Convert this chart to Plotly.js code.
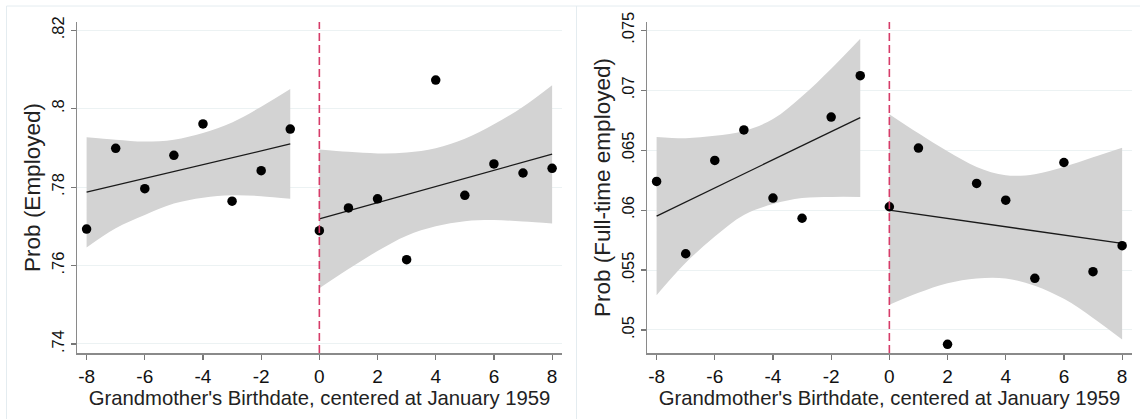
<!DOCTYPE html>
<html>
<head>
<meta charset="utf-8">
<script src="https://cdn.plot.ly/plotly-3.0.1.min.js"></script>
<style>html,body{margin:0;padding:0;background:#fff;}#chart{width:1140px;height:419px;}</style>
</head>
<body>
<div id="chart"></div>
<script>
// ---- data ----
var xBefore = [-8, -7, -6, -5, -4, -3, -2, -1];
var xAfter = [0, 1, 2, 3, 4, 5, 6, 7, 8];
var xTickVals = [-8, -6, -4, -2, 0, 2, 4, 6, 8];
var xTickText = ['-8', '-6', '-4', '-2', '0', '2', '4', '6', '8'];

// Panel 1: Prob (Employed)
var empBefore = [0.7693, 0.7899, 0.7796, 0.7881, 0.7961, 0.7764, 0.7842, 0.7948];
var empAfter = [0.7689, 0.7747, 0.7770, 0.7615, 0.8073, 0.7779, 0.7859, 0.7836, 0.7848];
var empFitXBefore = [-8, -1];
var empFitBefore = [0.7787, 0.7910];
var empFitXAfter = [0, 8];
var empFitAfter = [0.7719, 0.7884];
var empUpBefore = [0.7927, 0.7921, 0.7916, 0.7921, 0.7938, 0.7965, 0.8005, 0.8050];
var empLoBefore = [0.7646, 0.7695, 0.7729, 0.7758, 0.7773, 0.7779, 0.7777, 0.7770];
var empUpAfter = [0.7896, 0.7890, 0.7886, 0.7888, 0.7899, 0.7923, 0.7960, 0.8005, 0.8060];
var empLoAfter = [0.7542, 0.7591, 0.7637, 0.7676, 0.7700, 0.7713, 0.7716, 0.7712, 0.7707];
var empTickVals = [0.74, 0.76, 0.78, 0.80, 0.82];
var empTickText = ['.74', '.76', '.78', '.8', '.82'];

// Panel 2: Prob (Full-time employed)
var ftBefore = [0.06239, 0.05636, 0.06414, 0.06669, 0.06100, 0.05932, 0.06776, 0.07121];
var ftAfter = [0.06028, 0.06517, 0.04880, 0.06222, 0.06083, 0.05431, 0.06397, 0.05486, 0.05703];
var ftFitXBefore = [-8, -1];
var ftFitBefore = [0.05950, 0.06772];
var ftFitXAfter = [0, 8];
var ftFitAfter = [0.06000, 0.05722];
var ftUpBefore = [0.0661, 0.0660, 0.0662, 0.0666, 0.0676, 0.0695, 0.0718, 0.0743];
var ftLoBefore = [0.0529, 0.0556, 0.0578, 0.0596, 0.0605, 0.0610, 0.0611, 0.0611];
var ftUpAfter = [0.0680, 0.0664, 0.0649, 0.0636, 0.0629, 0.0630, 0.0636, 0.0644, 0.0652];
var ftLoAfter = [0.0521, 0.0531, 0.0539, 0.0543, 0.0543, 0.0537, 0.0526, 0.0510, 0.0492];
var ftTickVals = [0.05, 0.055, 0.06, 0.065, 0.07, 0.075];
var ftTickText = ['.05', '.055', '.06', '.065', '.07', '.075'];

var xTitle = "Grandmother's Birthdate, centered at January 1959";
var yTitle1 = 'Prob (Employed)';
var yTitle2 = 'Prob (Full-time employed)';

// ---- styles ----
var bandColor = 'rgb(211,211,211)';
var FONT = '"Liberation Sans", Arial, sans-serif';

function band(xs, up, lo, xa, ya) {
  return [
    {x: xs, y: up, xaxis: xa, yaxis: ya, type: 'scatter', mode: 'lines',
     line: {width: 0, shape: 'spline', smoothing: 1}, hoverinfo: 'skip', showlegend: false},
    {x: xs, y: lo, xaxis: xa, yaxis: ya, type: 'scatter', mode: 'lines', fill: 'tonexty',
     fillcolor: bandColor, line: {width: 0, shape: 'spline', smoothing: 1}, hoverinfo: 'skip', showlegend: false}
  ];
}
function fit(xs, ys, xa, ya) {
  return {x: xs, y: ys, xaxis: xa, yaxis: ya, type: 'scatter', mode: 'lines',
    line: {color: '#1a1a1a', width: 1.3}, showlegend: false};
}
function pts(xs, ys, xa, ya) {
  return {x: xs, y: ys, xaxis: xa, yaxis: ya, type: 'scatter', mode: 'markers',
    marker: {color: '#000', size: 9.5}, showlegend: false};
}

var data = [].concat(
  band(xBefore, empUpBefore, empLoBefore, 'x', 'y'),
  band(xAfter, empUpAfter, empLoAfter, 'x', 'y'),
  [fit(empFitXBefore, empFitBefore, 'x', 'y'), fit(empFitXAfter, empFitAfter, 'x', 'y'),
   pts(xBefore.concat(xAfter), empBefore.concat(empAfter), 'x', 'y')],
  band(xBefore, ftUpBefore, ftLoBefore, 'x2', 'y2'),
  band(xAfter, ftUpAfter, ftLoAfter, 'x2', 'y2'),
  [fit(ftFitXBefore, ftFitBefore, 'x2', 'y2'), fit(ftFitXAfter, ftFitAfter, 'x2', 'y2'),
   pts(xBefore.concat(xAfter), ftBefore.concat(ftAfter), 'x2', 'y2')]
);

var W = 1140, H = 419, ML = 77, MR = 8, MT = 22, MB = 66;
var PW = W - ML - MR, PH = H - MT - MB;
function px(v) { return (v - ML) / PW; }
function py(v) { return (H - MB - v) / PH; }

function xaxis(anchor, dom) {
  return {
    domain: dom, anchor: anchor, range: [-8.33, 8.34],
    tickvals: xTickVals, ticktext: xTickText,
    ticks: 'outside', ticklen: 5, tickwidth: 1.2, tickcolor: '#777',
    showline: true, linecolor: '#8a8a8a', linewidth: 1.5,
    showgrid: false, zeroline: false,
    tickfont: {family: FONT, size: 19, color: '#111'},
    ticklabelstandoff: 1,
    title: {text: xTitle, font: {family: FONT, size: 20.3, color: '#222'}, standoff: 0}
  };
}
function yaxis(anchor, range, tv, tt, title) {
  return {
    anchor: anchor, domain: [0, 1], range: range,
    tickvals: tv, ticktext: tt, tickangle: -90,
    ticks: 'outside', ticklen: 5, tickwidth: 1.2, tickcolor: '#777',
    showline: true, linecolor: '#8a8a8a', linewidth: 1.5,
    showgrid: true, gridcolor: '#ecf2f3', gridwidth: 1, zeroline: false,
    tickfont: {family: FONT, size: 16.5, color: '#111'},
    title: {text: title, font: {family: FONT, size: 22.5, color: '#222'}, standoff: 2}
  };
}

var frameColor = '#e4ecf0';
var layout = {
  width: W, height: H,
  margin: {l: ML, r: MR, t: MT, b: MB},
  paper_bgcolor: '#fff', plot_bgcolor: '#fff',
  showlegend: false,
  xaxis: xaxis('y', [0, px(562)]),
  yaxis: yaxis('x', [0.7377, 0.8221], empTickVals, empTickText, yTitle1),
  xaxis2: xaxis('y2', [px(647), 1]),
  yaxis2: yaxis('x2', [0.04808, 0.07569], ftTickVals, ftTickText, yTitle2),
  shapes: [
    {type: 'line', xref: 'x', yref: 'y domain', x0: 0, x1: 0, y0: 0, y1: 1,
     line: {color: '#d63c69', width: 1.6, dash: '8px,4px'}, layer: 'above'},
    {type: 'line', xref: 'x2', yref: 'y2 domain', x0: 0, x1: 0, y0: 0, y1: 1,
     line: {color: '#d63c69', width: 1.6, dash: '8px,4px'}, layer: 'above'},
    {type: 'line', xref: 'paper', yref: 'paper', x0: px(6.5), x1: px(1140), y0: py(6), y1: py(6),
     line: {color: frameColor, width: 1}},
    {type: 'line', xref: 'paper', yref: 'paper', x0: px(6.5), x1: px(6.5), y0: py(6), y1: py(419),
     line: {color: frameColor, width: 1}},
    {type: 'line', xref: 'paper', yref: 'paper', x0: px(576.5), x1: px(576.5), y0: py(6), y1: py(419),
     line: {color: frameColor, width: 1}}
  ]
};

Plotly.newPlot('chart', data, layout, {displayModeBar: false, staticPlot: true});
</script>
</body>
</html>
